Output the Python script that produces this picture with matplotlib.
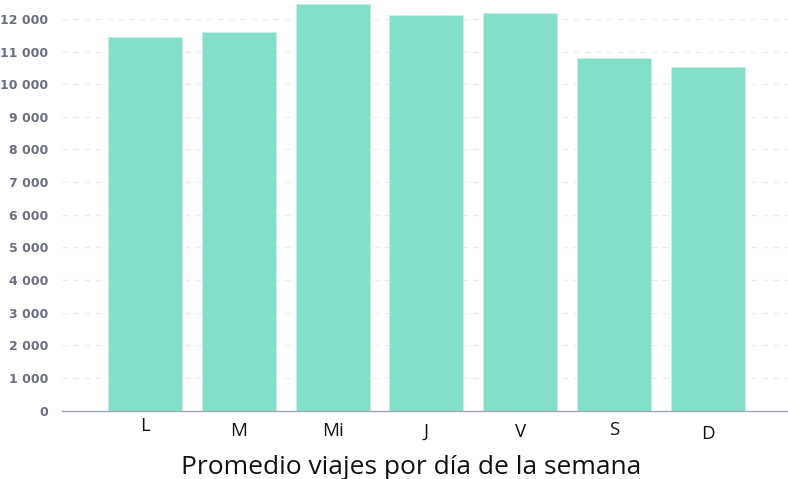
import matplotlib
matplotlib.use("Agg")
import matplotlib.pyplot as plt
from matplotlib.ticker import FuncFormatter

dias = ["L", "M", "Mi", "J", "V", "S", "D"]
viajes = [11460, 11600, 12460, 12130, 12190, 10790, 10530]
yticks = list(range(0, 13000, 1000))
titulo = "Promedio viajes por día de la semana"

fig = plt.figure(figsize=(7.88, 4.79), dpi=100)
ax = fig.add_axes([62 / 788, (479 - 410.5) / 479, 1 - 62 / 788, 410.5 / 479])

x = range(len(dias))
ax.bar(x, viajes, width=0.79, color="#84DFC9", edgecolor="#C8F0E6", linewidth=0.6, zorder=2)

ax.set_xlim(-0.885, 6.855)
ax.set_ylim(0, 12580)
ax.set_yticks(yticks)
ax.yaxis.set_major_formatter(FuncFormatter(lambda v, p: f"{int(v):,}".replace(",", " ")))
ax.grid(axis="y", color="#EBEBEB", linestyle=(0, (5, 5)), linewidth=0.8, zorder=0)

for s in ["top", "right", "left"]:
    ax.spines[s].set_visible(False)
ax.spines["bottom"].set_color("#A3A7BA")
ax.spines["bottom"].set_linewidth(1.0)

ax.tick_params(axis="y", length=0, pad=10, labelsize=9, labelcolor="#6B6E7E")
for lbl in ax.get_yticklabels():
    lbl.set_fontweight("bold")
    lbl.set_family("DejaVu Sans")

ax.set_xticks(list(x))
ax.set_xticklabels([])
ax.tick_params(axis="x", length=0)
# each day label sits at its own height below the axis (pixel rows)
offsets = [426, 430.5, 431, 432, 432, 430, 434]
for i, (d, yo) in enumerate(zip(dias, offsets)):
    ax.annotate(d, xy=(i, 0), xycoords=("data", "axes fraction"),
                xytext=(0, -(yo - 410.5) * 0.72), textcoords="offset points",
                ha="center", va="center", fontsize=13.5, family="Open Sans", color="#111111")

fig.text(411 / 788, 1 - 467 / 479, titulo, ha="center", va="center",
         fontsize=19, family="Open Sans", color="#111111")

fig.savefig("out.png", dpi=100)
